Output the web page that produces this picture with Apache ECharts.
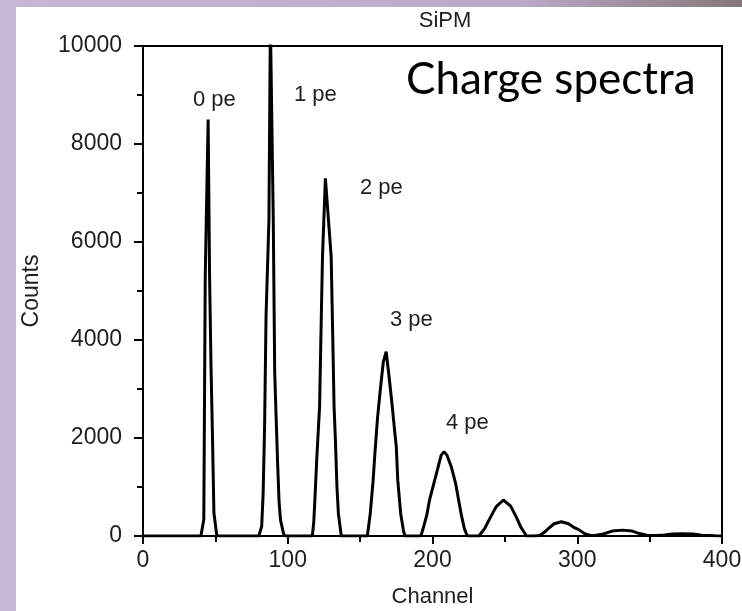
<!DOCTYPE html>
<html>
<head>
<meta charset="utf-8">
<script src="https://cdn.jsdelivr.net/npm/echarts@6/dist/echarts.min.js"></script>
<style>
html, body { margin: 0; padding: 0; background: #fff; }
#chart { width: 742px; height: 611px; }
</style>
</head>
<body>
<div id="chart"></div>
<script>
// spectrum, channel -> counts
var channels = [
	0, 40, 42, 43, 44, 45, 46, 47, 48, 49, 51,
	80, 82, 83, 84, 85, 87, 88, 89, 90, 91, 92, 93, 94, 95, 97, 98,
	117, 118, 119, 120, 121, 122, 123, 124, 126, 127, 128, 130, 131, 132, 133, 134, 135, 137,
	155, 157, 159, 160, 162, 164, 166, 168, 170, 172, 174, 175, 176, 178, 180, 181,
	192, 194, 196, 198, 201, 204, 206, 208, 210, 213, 216, 218, 220, 222, 224,
	232, 236, 240, 244, 249, 254, 258, 261, 265,
	270, 274, 277, 280, 284, 289, 294, 298, 301, 305, 309,
	312, 318, 324, 331, 338, 343, 348,
	355, 360, 366, 372, 380, 386, 395, 400
];
var counts = [
	0, 0, 330, 5290, 5290, 8500, 5290, 3450, 2030, 470, 0,
	0, 200, 870, 2230, 4475, 6450, 10500, 10500, 6450, 3320, 2400, 1490, 700, 330, 60, 0,
	0, 300, 900, 1550, 2100, 2640, 4200, 5700, 7300, 7300, 6500, 5700, 4200, 2640, 1900, 1000, 450, 0,
	0, 460, 1140, 1600, 2400, 3000, 3550, 3760, 3250, 2700, 2100, 1820, 1140, 460, 100, 0,
	0, 200, 420, 740, 1080, 1420, 1650, 1720, 1650, 1410, 1070, 740, 420, 150, 0,
	0, 150, 380, 600, 735, 610, 380, 180, 0,
	0, 10, 70, 150, 250, 292, 250, 170, 130, 50, 10,
	10, 40, 100, 120, 100, 50, 15,
	10, 20, 40, 45, 40, 15, 5, 0
];
var yTicks = [0, 2000, 4000, 6000, 8000, 10000];
var xTicks = [0, 100, 200, 300, 400];
var peakLabels = ['0 pe', '1 pe', '2 pe', '3 pe', '4 pe'];

var font = '"Liberation Sans", Arial, sans-serif';
var ink = '#1e1e1e';

var points = [];
for (var i = 0; i < channels.length; i++) {
	points.push([channels[i], counts[i]]);
}

// label spots in pixels (centre)
var labelPos = [[214, 101], [315, 96], [381, 189], [411, 321], [467, 424]];
var texts = [];
for (var k = 0; k < peakLabels.length; k++) {
	texts.push({
		type: 'text',
		left: labelPos[k][0] - 21,
		top: labelPos[k][1] - 12,
		style: { text: peakLabels[k], fill: ink, font: '22px ' + font }
	});
}
texts.push({
	type: 'text',
	left: 406,
	top: 58,
	style: { text: 'Charge spectra', fill: '#000', font: '44px Lato, "Open Sans", sans-serif' }
});
// slide frame strips
texts.unshift({
	type: 'rect',
	shape: { x: 0, y: 0, width: 742, height: 7 },
	style: {
		fill: new echarts.graphic.LinearGradient(0, 0, 1, 0, [
			{ offset: 0, color: '#c6b7d5' },
			{ offset: 0.7, color: '#bba9c8' },
			{ offset: 1, color: '#867878' }
		])
	}
});
texts.unshift({
	type: 'rect',
	shape: { x: 0, y: 0, width: 16, height: 611 },
	style: { fill: '#c6b7d5' }
});

var myChart = echarts.init(document.getElementById('chart'), null, { renderer: 'canvas' });
var option = {
	backgroundColor: '#fff',
	animation: false,
	title: {
		text: 'SiPM',
		left: 440,
		top: 5,
		textAlign: 'center',
		textStyle: { fontFamily: font, fontWeight: 'normal', fontSize: 22, color: ink }
	},
	grid: {
		left: 143,
		right: 20,
		top: 46,
		bottom: 75,
		outerBoundsMode: 'none',
		containLabel: false,
		show: true,
		borderColor: '#000',
		borderWidth: 2
	},
	xAxis: {
		type: 'value',
		min: xTicks[0],
		max: xTicks[xTicks.length - 1],
		interval: 100,
		name: 'Channel',
		nameLocation: 'middle',
		nameGap: 50,
		nameTextStyle: { fontFamily: font, fontSize: 22, color: ink },
		axisLine: { show: true, lineStyle: { color: '#000', width: 2 } },
		axisTick: { show: true, length: 8, lineStyle: { color: '#000', width: 2 } },
		minorTick: { show: true, splitNumber: 2, length: 6, lineStyle: { color: '#000', width: 2 } },
		splitLine: { show: false },
		axisLabel: { fontFamily: font, fontSize: 23, color: ink, margin: 13 }
	},
	yAxis: {
		type: 'value',
		min: yTicks[0],
		max: yTicks[yTicks.length - 1],
		interval: 2000,
		name: 'Counts',
		nameLocation: 'middle',
		nameGap: 100,
		nameTextStyle: { fontFamily: font, fontSize: 23, color: ink },
		axisLine: { show: true, lineStyle: { color: '#000', width: 2 } },
		axisTick: { show: true, length: 9, lineStyle: { color: '#000', width: 2 } },
		minorTick: { show: true, splitNumber: 2, length: 6, lineStyle: { color: '#000', width: 2 } },
		splitLine: { show: false },
		axisLabel: {
			fontFamily: font, fontSize: 23, color: ink, margin: 21,
			formatter: function (v) { return String(v); }
		}
	},
	series: [{
		type: 'line',
		data: points,
		symbol: 'none',
		clip: true,
		lineStyle: { color: '#000', width: 3 }
	}],
	graphic: texts
};
myChart.setOption(option);
</script>
</body>
</html>
